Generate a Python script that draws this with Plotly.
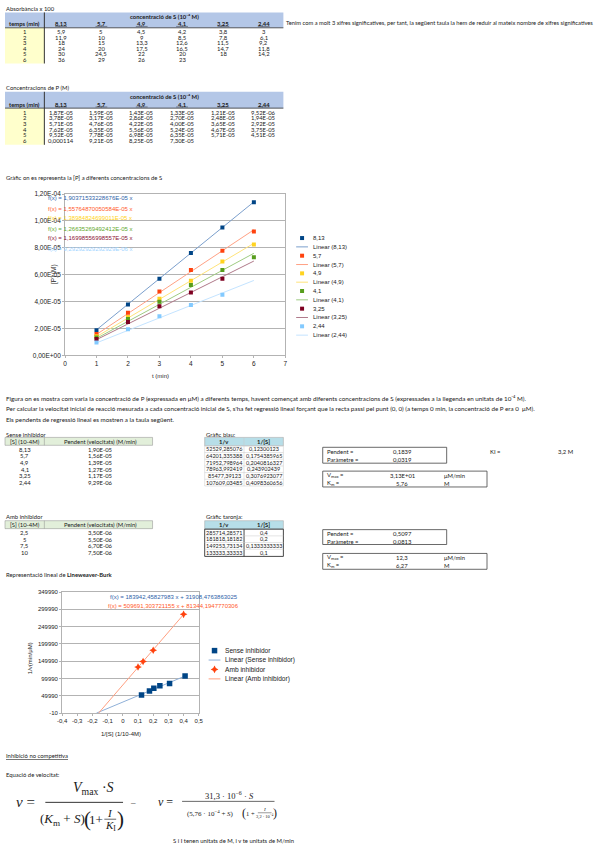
import plotly.graph_objects as go

W, H = 613, 848
SHEET = "Lato, Carlito, sans-serif"
CHART = "Liberation Sans, Arial, sans-serif"
SERIF = "Liberation Serif, Times New Roman, serif"
TXT = "#1a1a1a"
FS = 5.9  # sheet font size

# ---------------- data ----------------
conc_labels = ["8,13", "5,7", "4,9", "4,1", "3,25", "2,44"]
times = [1, 2, 3, 4, 5, 6]

abs_813 = [5.9, 11.9, 18, 24, 30, 36]
abs_57 = [5, 10, 15, 20, 24.5, 29]
abs_49 = [4.5, 9, 13.3, 17.5, 22, 26]
abs_41 = [4.2, 8.5, 12.6, 16.5, 20, 23]
abs_325 = [3.8, 7.8, 11.5, 14.7, 18, None]
abs_244 = [3, 6.1, 9.2, 11.8, 14.2, None]
absorb = [abs_813, abs_57, abs_49, abs_41, abs_325, abs_244]

P_813 = [1.87e-5, 3.78e-5, 5.71e-5, 7.62e-5, 9.52e-5, 1.14e-4]
P_57 = [1.59e-5, 3.17e-5, 4.76e-5, 6.35e-5, 7.78e-5, 9.21e-5]
P_49 = [1.43e-5, 2.86e-5, 4.22e-5, 5.56e-5, 6.98e-5, 8.25e-5]
P_41 = [1.33e-5, 2.70e-5, 4.00e-5, 5.24e-5, 6.35e-5, 7.30e-5]
P_325 = [1.21e-5, 2.48e-5, 3.65e-5, 4.67e-5, 5.71e-5, None]
P_244 = [9.52e-6, 1.94e-5, 2.92e-5, 3.75e-5, 4.51e-5, None]
P_all = [P_813, P_57, P_49, P_41, P_325, P_244]

slopes = [1.90371533228676e-5, 1.55764870050584e-5, 1.38984824699011e-5,
          1.26635269492412e-5, 1.16998556998557e-5, 9.29292929292929e-6]
slope_labels = ["1,90371533228676E-05", "1,55764870050584E-05", "1,38984824699011E-05",
                "1,26635269492412E-05", "1,16998556998557E-05", "9,29292929292929E-06"]

p_ticks = [0, 2e-5, 4e-5, 6e-5, 8e-5, 1e-4, 1.2e-4]
p_ticktext = ["0,00E+00", "2,00E-05", "4,00E-05", "6,00E-05", "8,00E-05", "1,00E-04", "1,20E-04"]
t_ticks = [0, 1, 2, 3, 4, 5, 6, 7]

rate_labels = ["1,90E-05", "1,56E-05", "1,39E-05", "1,27E-05", "1,17E-05", "9,29E-06"]

S_inh = ["2,5", "5", "7,5", "10"]
rate_inh = ["3,50E-06", "5,50E-06", "6,70E-06", "7,50E-06"]

invv_blue = [52529.285076, 64201.335388, 71952.798964, 78963.992419, 85477.39123, 107609.03485]
invS_blue = [0.12300123, 0.1754385965, 0.2040816327, 0.243902439, 0.3076923077, 0.4098360656]
invv_or = [285714.28571, 181818.18182, 149253.73134, 133333.33333]
invS_or = [0.4, 0.2, 0.1333333333, 0.1]

lb_slope_b, lb_int_b = 183942.45827983, 31908.4763863025
lb_slope_o, lb_int_o = 509691.303721155, 81344.1947770306
lb_eq_b = "f(x) = 183942,45827983 x + 31908,4763863025"
lb_eq_o = "f(x) = 509691,303721155 x + 81344,1947770306"

lb_yticks = [-10, 49990, 99990, 149990, 199990, 249990, 299990, 349990]
lb_xticks = [-0.4, -0.3, -0.2, -0.1, 0, 0.1, 0.2, 0.3, 0.4, 0.5]
lb_xticktext = ["-0,4", "-0,3", "-0,2", "-0,1", "0", "0,1", "0,2", "0,3", "0,4", "0,5"]

series_colors = ["#004586", "#ff420e", "#ffd320", "#579d1c", "#7e0021", "#83caff"]
trend_colors = ["#7b9fcc", "#ffa184", "#ffe37a", "#9fcb82", "#b07a8a", "#c4e4ff"]
label_colors = ["#2e62a8", "#ff5a2a", "#ffd320", "#62a82a", "#8a1030", "#9fd4ff"]


def fnum(v):
    if v is None:
        return ""
    if float(v).is_integer():
        return str(int(v))
    return str(v).replace(".", ",")


def fsci(v):
    if v is None:
        return ""
    if v >= 1e-4:
        return ("%.6f" % v).rstrip("0").replace(".", ",")
    return ("%.2E" % v).replace(".", ",")


def X(px):
    return px / W


def Y(py):
    return 1 - py / H


ann = []
shapes = []


def txt(x, y, s, size=FS, color=TXT, anchor="left", font=SHEET, angle=0):
    if not s:
        return
    ann.append(dict(x=X(x), y=Y(y), xref="paper", yref="paper", text=s, showarrow=False,
                    xanchor=anchor, yanchor="middle", textangle=angle,
                    font=dict(size=size, color=color, family=font), borderpad=0))


def rect(x0, y0, x1, y1, fill=None, line=None, width=0.6):
    shapes.append(dict(type="rect", xref="paper", yref="paper", x0=X(x0), x1=X(x1), y0=Y(y0), y1=Y(y1),
                       fillcolor=fill if fill else "rgba(0,0,0,0)",
                       line=dict(color=line if line else "rgba(0,0,0,0)", width=width if line else 0),
                       layer="below"))


def hline(x0, x1, y, color="#000", width=0.6):
    shapes.append(dict(type="line", xref="paper", yref="paper", x0=X(x0), x1=X(x1), y0=Y(y), y1=Y(y),
                       line=dict(color=color, width=width)))


def vline(x, y0, y1, color="#000", width=0.6):
    shapes.append(dict(type="line", xref="paper", yref="paper", x0=X(x), x1=X(x), y0=Y(y0), y1=Y(y1),
                       line=dict(color=color, width=width)))


BLUE_HDR = "#b4c7e7"
YELLOW = "#ffffcc"
col_x = [57, 98, 139, 180, 222, 263]

# ---------- Table 1: absorbance ----------
txt(0, 5, "Absorbància x 100")
rect(0, 8.5, 283, 24, BLUE_HDR)
rect(0, 24, 40, 60, YELLOW)
vline(40, 8.5, 60, "#333", 1)
hline(0, 283, 24, "#333", 0.8)
txt(162, 12.5, "<b>concentració de S (10⁻⁴ M)</b>", anchor="center")
txt(20, 19.5, "<b>temps (min)</b>", anchor="center")
rows1 = [27.7, 33.4, 39.1, 44.8, 50.4, 56.0]
for j, c in enumerate(conc_labels):
    txt(col_x[j], 19.5, "<b>" + c + "</b>", anchor="center")
    hline(col_x[j] - 6, col_x[j] + 6, 22.6, "#333", 0.5)
for i, t in enumerate(times):
    txt(20, rows1[i], str(t), anchor="center")
    for j in range(6):
        txt(col_x[j], rows1[i], fnum(absorb[j][i]), anchor="center")
txt(285, 19, "Tenim com a molt 3 xifres significatives, per tant, la següent taula la hem de reduir al mateix nombre de xifres significatives", size=5.75)

# ---------- Table 2: P concentrations ----------
txt(0, 84, "Concentracions de P (M)")
rect(0, 88.5, 283, 105, BLUE_HDR)
rect(0, 105, 40, 142, YELLOW)
vline(40, 88.5, 142, "#333", 1)
hline(0, 283, 105, "#333", 0.8)
txt(162, 93, "<b>concentració de S (10⁻⁴ M)</b>", anchor="center")
txt(20, 101, "<b>temps (min)</b>", anchor="center")
rows2 = [109.1, 114.8, 120.5, 126.2, 131.9, 137.6]
for j, c in enumerate(conc_labels):
    txt(col_x[j], 101, "<b>" + c + "</b>", anchor="center")
    hline(col_x[j] - 6, col_x[j] + 6, 103.8, "#333", 0.5)
for i, t in enumerate(times):
    txt(20, rows2[i], str(t), anchor="center")
    for j in range(6):
        txt(col_x[j], rows2[i], fsci(P_all[j][i]), anchor="center")

txt(0, 175, "Gràfic on es representa la [P] a diferents concentracions de S")

# ---------- Chart 1 ----------
fig = go.Figure()
for j in range(6):
    tx = [times[0], times[-1]]
    fig.add_trace(go.Scatter(x=tx, y=[slopes[j] * v for v in tx], mode="lines", xaxis="x", yaxis="y",
                             line=dict(color=trend_colors[j], width=1), showlegend=False, hoverinfo="skip"))
for j in range(6):
    fig.add_trace(go.Scatter(x=times, y=P_all[j], mode="markers", xaxis="x", yaxis="y",
                             marker=dict(symbol="square", size=4, color=series_colors[j]),
                             showlegend=False, hoverinfo="skip"))

eq_y = [196, 207, 216, 227, 236, 247]
for j in range(6):
    txt(43, eq_y[j], "f(x) = " + slope_labels[j] + " x", size=6, color=label_colors[j], font=CHART)

txt(50, 272, "[P] (M)", size=6.5, font=CHART, anchor="center", angle=-90)
txt(158, 375, "t (min)", size=6, font=CHART, anchor="center")

# legend 1 (manual)
leg1_y0, leg1_dy = 236, 8.9
leg_mx, leg_my = [], []
for j in range(6):
    ym = leg1_y0 + 2 * j * leg1_dy
    yl = ym + leg1_dy
    leg_mx.append(302)
    leg_my.append(ym)
    txt(312, ym, conc_labels[j], size=6, font=CHART)
    hline(296, 308, yl, trend_colors[j], 1)
    txt(312, yl, "Linear (" + conc_labels[j] + ")", size=6, font=CHART)
fig.add_trace(go.Scatter(x=leg_mx, y=leg_my, mode="markers", xaxis="x3", yaxis="y3",
                         marker=dict(symbol="square", size=4, color=series_colors),
                         showlegend=False, hoverinfo="skip"))

# ---------- text block ----------
BS = 6.25
txt(0, 397.5, "Figura on es mostra com varia la concentració de P (expressada en μM) a diferents temps, havent començat amb diferents concentracions de S (expressades a la llegenda en unitats de 10⁻⁴ M).", size=BS)
txt(0, 408, "Per calcular la velocitat inicial de reacció mesurada a cada concentració inicial de S, s'ha fet regressió lineal forçant que la recta passi pel punt (0, 0) (a temps 0 min, la concentració de P era 0  μM).", size=BS)
txt(0, 418.5, "Els pendents de regressió lineal es mostren a la taula següent.", size=BS)

# ---------- Sense inhibidor table ----------
GREEN_HDR = "#e2efda"
CYAN_HDR = "#b7dee8"
txt(0, 434, "Sense inhibidor")
rect(0, 437, 150, 445, GREEN_HDR, "#8a8a8a", 0.5)
vline(40, 437, 445, "#8a8a8a", 0.5)
txt(20, 441, "[S] (10-4M)", anchor="center")
txt(97, 441, "Pendent (velocitats) (M/min)", anchor="center")
rows3 = [449, 455.7, 462.4, 469.1, 475.8, 482.5]
for i in range(6):
    txt(20, rows3[i], conc_labels[i], anchor="center")
    txt(97, rows3[i], rate_labels[i], anchor="center")

txt(0, 517, "Amb inhibidor")
rect(0, 521, 150, 529, GREEN_HDR, "#8a8a8a", 0.5)
vline(40, 521, 529, "#8a8a8a", 0.5)
txt(20, 525, "[S] (10-4M)", anchor="center")
txt(97, 525, "Pendent (velocitats) (M/min)", anchor="center")
rows4 = [533, 539.7, 546.4, 553.1]
for i in range(4):
    txt(20, rows4[i], S_inh[i], anchor="center")
    txt(97, rows4[i], rate_inh[i], anchor="center")

# ---------- Gràfic blau table ----------
txt(203, 434, "Gràfic blau:")
rect(203, 437, 283, 445.5, CYAN_HDR, "#a0a0a0", 0.5)
txt(223, 441, "<b>1/v</b>", anchor="center")
txt(263, 441, "<b>1/[S]</b>", anchor="center")
bounds = [445.5, 452.3, 459, 465.8, 472.5, 479.2, 486]
for b in bounds:
    hline(203, 283, b, "#c8c8c8", 0.5)
vline(203, 437, 486, "#c8c8c8", 0.5)
vline(243, 437, 486, "#c8c8c8", 0.5)
vline(283, 437, 486, "#c8c8c8", 0.5)
for i in range(6):
    txt(223, rows3[i], fnum(invv_blue[i]), anchor="center", size=5.5)
    txt(263, rows3[i], fnum(invS_blue[i]), anchor="center", size=5.5)

# ---------- Gràfic taronja table ----------
txt(203, 517, "Gràfic taronja:")
rect(203, 521, 283, 529.5, CYAN_HDR, "#a0a0a0", 0.5)
txt(223, 525, "<b>1/v</b>", anchor="center")
txt(263, 525, "<b>1/[S]</b>", anchor="center")
rect(203, 529.5, 283, 557, None, "#333", 0.9)
vline(243, 529.5, 557, "#333", 0.9)
for b in [536.3, 543, 549.8]:
    hline(203, 283, b, "#c8c8c8", 0.5)
for i in range(4):
    txt(223, rows4[i], fnum(invv_or[i]), anchor="center", size=5.5)
    txt(263, rows4[i], fnum(invS_or[i]), anchor="center", size=5.5)


# ---------- parameter boxes ----------
def box(y0, y1, x1, rows):
    rect(323, y0, x1, y1, None, "#444", 0.8)
    for (yy, a, b, c) in rows:
        txt(326, yy, a)
        txt(404, yy, b, anchor="center")
        if c:
            txt(445, yy, c)


box(447, 463, 449, [(451, "Pendent =", "0,1839", ""), (459, "Paràmetre =", "0,0319", "")])
box(471, 487, 490, [(475, "V<sub>max</sub> =", "3,13E+01", "μM/min"), (483, "K<sub>m</sub> =", "5,76", "M")])
box(530, 545, 449, [(534, "Pendent =", "0,5097", ""), (541.5, "Paràmetre =", "0,0813", "")])
box(554, 570, 490, [(558, "V<sub>max</sub> =", "12,3", "μM/min"), (566, "K<sub>m</sub> =", "6,27", "M")])
txt(492, 451, "KI =")
txt(578, 451, "3,2 M", anchor="right")

# ---------- Chart 2 (Lineweaver-Burk) ----------
txt(0, 575, "Representació lineal de <b>Lineweaver-Burk</b>")
xb = [(-10 - lb_int_b) / lb_slope_b, max(invS_blue)]
fig.add_trace(go.Scatter(x=xb, y=[lb_slope_b * v + lb_int_b for v in xb], mode="lines", xaxis="x2", yaxis="y2",
                         line=dict(color="#8fb0d8", width=1), showlegend=False, hoverinfo="skip"))
xo = [(-10 - lb_int_o) / lb_slope_o, max(invS_or)]
fig.add_trace(go.Scatter(x=xo, y=[lb_slope_o * v + lb_int_o for v in xo], mode="lines", xaxis="x2", yaxis="y2",
                         line=dict(color="#ff9f80", width=1), showlegend=False, hoverinfo="skip"))
fig.add_trace(go.Scatter(x=invS_blue, y=invv_blue, mode="markers", xaxis="x2", yaxis="y2",
                         marker=dict(symbol="square", size=5.5, color="#004586"),
                         showlegend=False, hoverinfo="skip"))
fig.add_trace(go.Scatter(x=invS_or, y=invv_or, mode="markers", xaxis="x2", yaxis="y2",
                         marker=dict(symbol="star-diamond", size=5.5, color="#ff420e"),
                         showlegend=False, hoverinfo="skip"))
txt(106, 598, lb_eq_b, size=6, color="#2e62a8", font=CHART)
txt(104, 607, lb_eq_o, size=6, color="#ff5a2a", font=CHART)
txt(25, 660, "1/v(min/μM)", size=6, font=CHART, anchor="center", angle=-90)
txt(118, 736, "1/[S] (1/10-4M)", size=6, font=CHART, anchor="center")

leg2_y = [652, 661.5, 671, 680.5]
leg2_txt = ["Sense inhibidor", "Linear (Sense inhibidor)", "Amb inhibidor", "Linear (Amb inhibidor)"]
for k in range(4):
    txt(223, leg2_y[k], leg2_txt[k], size=6.6, font=CHART)
hline(207, 219, leg2_y[1], "#8fb0d8", 1)
hline(207, 219, leg2_y[3], "#ff9f80", 1)
fig.add_trace(go.Scatter(x=[213], y=[leg2_y[0]], mode="markers", xaxis="x3", yaxis="y3",
                         marker=dict(symbol="square", size=5.5, color="#004586"),
                         showlegend=False, hoverinfo="skip"))
fig.add_trace(go.Scatter(x=[213], y=[leg2_y[2]], mode="markers", xaxis="x3", yaxis="y3",
                         marker=dict(symbol="star-diamond", size=5.5, color="#ff420e"),
                         showlegend=False, hoverinfo="skip"))

# ---------- bottom text & formulas ----------
txt(0, 758, "<u>Inhibició no competitiva</u>")
txt(0, 777, "Equació de velocitat:")
# formula 1
FY = 805
txt(10, FY, "<i>v</i> =", size=15, font=SERIF)
txt(90, FY - 14, "<i>V</i><sub>max</sub> ·<i>S</i>", size=14, font=SERIF, anchor="center")
hline(41, 120, FY, "#000", 0.8)
txt(58, FY + 17, "(<i>K</i><sub>m</sub> + <i>S</i>)", size=13, font=SERIF, anchor="center")
txt(83.5, FY + 17, "(", size=21, font=SERIF, anchor="center")
txt(93, FY + 17, "1+", size=13, font=SERIF, anchor="center")
txt(107, FY + 11, "<i>I</i>", size=11, font=SERIF, anchor="center")
hline(101, 113, FY + 17, "#000", 0.6)
txt(107, FY + 23.5, "<i>K</i><sub>I</sub>", size=11, font=SERIF, anchor="center")
txt(117, FY + 17, ")", size=21, font=SERIF, anchor="center")
txt(130, FY, "–", size=9, font=SERIF, anchor="center")
# formula 2
txt(155, FY, "<i>v</i> =", size=12, font=SERIF)
txt(228, FY - 7, "31,3 · 10<sup>−6</sup> · <i>S</i>", size=8.5, font=SERIF, anchor="center")
hline(180, 274, FY - 1, "#000", 0.6)
txt(209, FY + 11, "(5,76 · 10<sup>−4</sup> + <i>S</i>)", size=7, font=SERIF, anchor="center")
txt(243, FY + 11, "(", size=12, font=SERIF, anchor="center")
txt(250, FY + 11, "1 +", size=6.5, font=SERIF, anchor="center")
txt(264, FY + 7, "<i>I</i>", size=5, font=SERIF, anchor="center")
hline(257, 271, FY + 10.5, "#000", 0.4)
txt(264, FY + 14, "3,2 · 10<sup>−4</sup>", size=4.5, font=SERIF, anchor="center")
txt(274, FY + 11, ")", size=12, font=SERIF, anchor="center")
txt(232, 843, "S i I tenen unitats de M, i v te unitats de M/min", anchor="center")

AX = "#b3b3b3"
fig.update_layout(
    width=W, height=H, margin=dict(l=0, r=0, t=0, b=0),
    paper_bgcolor="white", plot_bgcolor="rgba(0,0,0,0)",
    showlegend=False,
    xaxis=dict(domain=[X(61), X(285)], range=[0, 7], tickvals=t_ticks, showgrid=False, zeroline=False,
               showline=True, linecolor=AX, linewidth=0.8, mirror=True, ticks="outside", ticklen=2,
               tickcolor=AX, tickfont=dict(size=6.5, family=CHART, color="#222"), fixedrange=True),
    yaxis=dict(domain=[Y(354.3), Y(191.7)], range=[0, 1.2e-4], tickvals=p_ticks, ticktext=p_ticktext,
               showgrid=True, gridcolor=AX, gridwidth=0.6, zeroline=False, showline=True, linecolor=AX,
               linewidth=0.8, mirror=True, ticks="outside", ticklen=2, tickcolor=AX,
               tickfont=dict(size=6.5, family=CHART, color="#222"), fixedrange=True),
    xaxis2=dict(domain=[X(58), X(197)], range=[-0.4, 0.5], tickvals=lb_xticks, ticktext=lb_xticktext,
                showgrid=False, zeroline=False, showline=True, linecolor=AX, linewidth=0.8, mirror=True,
                ticks="outside", ticklen=2, tickcolor=AX, anchor="y2",
                tickfont=dict(size=6, family=CHART, color="#222"), fixedrange=True),
    yaxis2=dict(domain=[Y(715), Y(593)], range=[-10, 349990], tickvals=lb_yticks,
                ticktext=[str(v) for v in lb_yticks], showgrid=True, gridcolor=AX, gridwidth=0.6,
                zeroline=False, showline=True, linecolor=AX, linewidth=0.8, mirror=True, ticks="outside",
                ticklen=2, tickcolor=AX, anchor="x2",
                tickfont=dict(size=6, family=CHART, color="#222"), fixedrange=True),
    xaxis3=dict(domain=[0, 1], range=[0, W], visible=False, anchor="y3", fixedrange=True),
    yaxis3=dict(domain=[0, 1], range=[H, 0], visible=False, anchor="x3", fixedrange=True),
    annotations=ann, shapes=shapes,
)

fig.write_html("out.html", config={"displayModeBar": False},
               post_script="document.body.style.margin='0px';document.body.style.overflow='hidden';")
